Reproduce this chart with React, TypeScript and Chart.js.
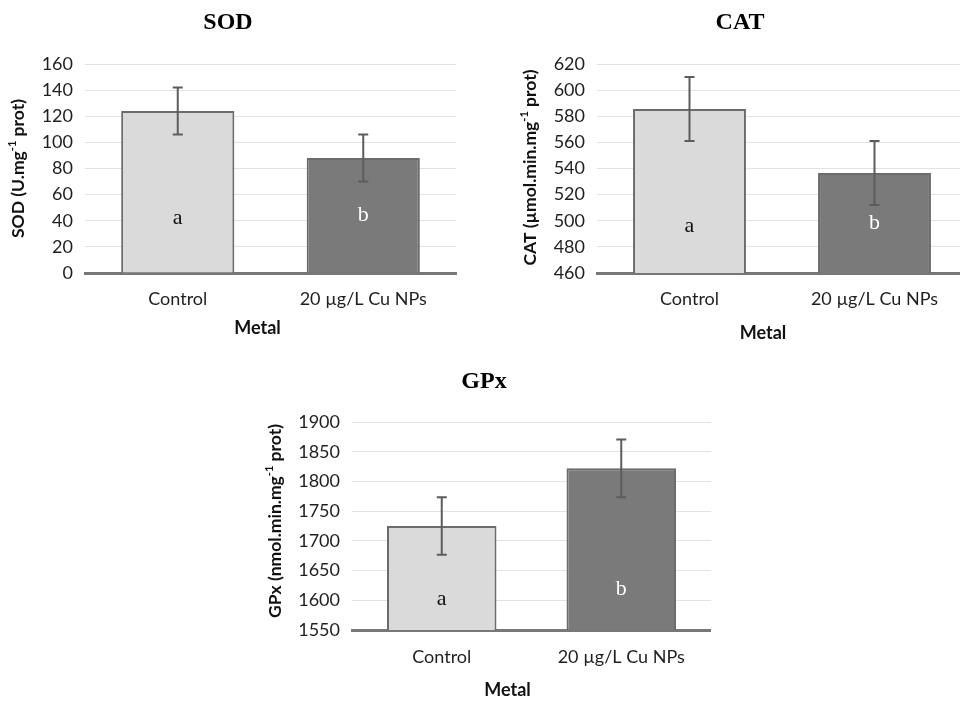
import React, { useEffect, useRef } from 'react';
import { Chart, registerables } from 'chart.js';

Chart.register(...registerables);

// ---------- data ----------
const categories = ['Control', '20 µg/L Cu NPs'];
const letters = ['a', 'b'];

const sodValues = [124, 88];
const sodErrors = [18, 18];
const sodLetterPos = [42, 44];
const sodTicks = { min: 0, max: 160, step: 20 };
const sodAxisTitle = ['SOD (U.mg', '-1', ' prot)'];

const catValues = [585.5, 536.5];
const catErrors = [24.5, 24.5];
const catLetterPos = [496, 498];
const catTicks = { min: 460, max: 620, step: 20 };
const catAxisTitle = ['CAT (µmol.min.mg', '-1', ' prot)'];

const gpxValues = [1725, 1822];
const gpxErrors = [48.5, 48.5];
const gpxLetterPos = [1602, 1619];
const gpxTicks = { min: 1550, max: 1900, step: 50 };
const gpxAxisTitle = ['GPx (nmol.min.mg', '-1', ' prot)'];

const xAxisTitle = 'Metal';

// ---------- styles ----------
const barFills = ['#d9dad9', '#7a7a7a'];
const barBorder = '#6b6b6b';
const letterColors = ['#111111', '#ffffff'];
const SANS = 'Lato';

function drawRichRotated(ctx: CanvasRenderingContext2D, parts: string[], cx: number, cy: number, size: number) {
  ctx.save();
  ctx.translate(cx, cy);
  ctx.rotate(-Math.PI / 2);
  ctx.textBaseline = 'middle';
  ctx.textAlign = 'left';
  ctx.fillStyle = '#111111';
  const fonts = parts.map((_, i) => `bold ${i === 1 ? Math.round(size * 0.62) : size}px ${SANS}`);
  const widths = parts.map((p, i) => {
    ctx.font = fonts[i];
    return ctx.measureText(p).width;
  });
  const total = widths.reduce((a, b) => a + b, 0);
  let x = -total / 2;
  parts.forEach((p, i) => {
    ctx.font = fonts[i];
    ctx.fillText(p, x, i === 1 ? -size * 0.33 : 0);
    x += widths[i];
  });
  ctx.restore();
}

const extrasPlugin = {
  id: 'extras',
  afterDatasetsDraw(chart: any, _args: any, opts: any) {
    const ctx: CanvasRenderingContext2D = chart.ctx;
    const meta = chart.getDatasetMeta(0);
    const y = chart.scales.y;
    meta.data.forEach((bar: any, i: number) => {
      ctx.save();
      ctx.font = '22px "Liberation Serif"';
      ctx.fillStyle = letterColors[i];
      ctx.textAlign = 'center';
      ctx.textBaseline = 'middle';
      ctx.fillText(letters[i], bar.x, y.getPixelForValue(opts.letterPos[i]));
      const v = opts.values[i];
      const e = opts.errors[i];
      const yt = y.getPixelForValue(v + e);
      const yb = y.getPixelForValue(v - e);
      ctx.strokeStyle = '#5c5c5c';
      ctx.lineWidth = 2;
      ctx.beginPath();
      ctx.moveTo(bar.x, yt);
      ctx.lineTo(bar.x, yb);
      ctx.moveTo(bar.x - 5, yt);
      ctx.lineTo(bar.x + 5, yt);
      ctx.moveTo(bar.x - 5, yb);
      ctx.lineTo(bar.x + 5, yb);
      ctx.stroke();
      ctx.restore();
    });
  },
  afterDraw(chart: any, _args: any, opts: any) {
    const ctx: CanvasRenderingContext2D = chart.ctx;
    const ca = chart.chartArea;
    drawRichRotated(ctx, opts.yTitle, opts.yTitleX, (ca.top + ca.bottom) / 2 + (opts.yTitleDy || 0), 17.5);
    ctx.save();
    ctx.font = `bold 18px ${SANS}`;
    ctx.fillStyle = '#111111';
    ctx.textAlign = 'center';
    ctx.textBaseline = 'middle';
    ctx.fillText(xAxisTitle, (ca.left + ca.right) / 2 + opts.xTitleDx, opts.xTitleY);
    ctx.restore();
  },
};

interface PanelProps {
  left: number;
  top: number;
  width: number;
  height: number;
  title: string;
  values: number[];
  errors: number[];
  letterPos: number[];
  ticks: { min: number; max: number; step: number };
  yTitle: string[];
  yAxisWidth: number;
  xAxisHeight: number;
  padRight: number;
  titlePadTop: number;
  titlePadBottom: number;
  yTitleX: number;
  yTitleDy?: number;
  xTitleDx: number;
  xTitleY: number;
  xTickPad: number;
}

function Panel(p: PanelProps) {
  const ref = useRef<HTMLCanvasElement | null>(null);
  useEffect(() => {
    if (!ref.current) return;
    const chart = new Chart(ref.current, {
      type: 'bar',
      data: {
        labels: categories,
        datasets: [
          {
            data: p.values,
            backgroundColor: barFills,
            borderColor: barBorder,
            borderWidth: 2,
            borderSkipped: 'start',
            barPercentage: 0.61,
            categoryPercentage: 1,
          },
        ],
      },
      options: {
        responsive: false,
        maintainAspectRatio: false,
        animation: false,
        devicePixelRatio: 1,
        layout: { padding: { left: 0, right: p.padRight, top: 0, bottom: 0 } },
        plugins: {
          legend: { display: false },
          tooltip: { enabled: false },
          title: {
            display: true,
            text: p.title,
            color: '#000',
            font: { family: 'Liberation Serif', size: 24, weight: 'bold' },
            padding: { top: p.titlePadTop, bottom: p.titlePadBottom },
          },
          extras: {
            values: p.values,
            errors: p.errors,
            letterPos: p.letterPos,
            yTitle: p.yTitle,
            yTitleX: p.yTitleX,
            yTitleDy: p.yTitleDy,
            xTitleDx: p.xTitleDx,
            xTitleY: p.xTitleY,
          },
        } as any,
        scales: {
          x: {
            z: 1,
            grid: { display: false, drawTicks: false },
            border: { display: true, color: '#777777', width: 3 },
            ticks: { color: '#1f1f1f', font: { family: SANS, size: 18 }, padding: p.xTickPad },
            afterFit: (s: any) => {
              s.height = p.xAxisHeight;
            },
          },
          y: {
            min: p.ticks.min,
            max: p.ticks.max,
            grid: { color: '#e2e2e2', lineWidth: 1, drawTicks: false },
            border: { display: false },
            ticks: {
              stepSize: p.ticks.step,
              color: '#1f1f1f',
              font: { family: SANS, size: 18 },
              padding: 12,
              callback: (v: any) => String(v),
            },
            afterFit: (s: any) => {
              s.width = p.yAxisWidth;
            },
          },
        },
      },
      plugins: [extrasPlugin as any],
    });
    return () => chart.destroy();
  }, []);
  return (
    <div style={{ position: 'absolute', left: p.left, top: p.top, width: p.width, height: p.height }}>
      <canvas ref={ref} width={p.width} height={p.height} style={{ width: p.width, height: p.height, display: 'block' }} />
    </div>
  );
}

export default function App() {
  return (
    <div
      style={{
        position: 'fixed',
        left: 0,
        top: 0,
        width: 960,
        height: 703,
        overflow: 'hidden',
        background: '#ffffff',
      }}
    >
      <Panel
        left={0}
        top={0}
        width={480}
        height={343}
        title="SOD"
        values={sodValues}
        errors={sodErrors}
        letterPos={sodLetterPos}
        ticks={sodTicks}
        yTitle={sodAxisTitle}
        yAxisWidth={85}
        xAxisHeight={70}
        padRight={24}
        titlePadTop={8.6}
        titlePadBottom={26.6}
        yTitleX={18}
        xTitleDx={-13}
        xTitleY={328}
        xTickPad={15}
      />
      <Panel
        left={513}
        top={0}
        width={454}
        height={343}
        title="CAT"
        values={catValues}
        errors={catErrors}
        letterPos={catLetterPos}
        ticks={catTicks}
        yTitle={catAxisTitle}
        yAxisWidth={84}
        xAxisHeight={70}
        padRight={0}
        titlePadTop={8.6}
        titlePadBottom={26.6}
        yTitleX={17}
        yTitleDy={-1}
        xTitleDx={-19}
        xTitleY={333}
        xTickPad={15}
      />
      <Panel
        left={257}
        top={350}
        width={454}
        height={353}
        title="GPx"
        values={gpxValues}
        errors={gpxErrors}
        letterPos={gpxLetterPos}
        ticks={gpxTicks}
        yTitle={gpxAxisTitle}
        yAxisWidth={95}
        xAxisHeight={73}
        padRight={0}
        titlePadTop={17.6}
        titlePadBottom={25.6}
        yTitleX={18}
        yTitleDy={-5}
        xTitleDx={-24}
        xTitleY={340}
        xTickPad={16}
      />
    </div>
  );
}
